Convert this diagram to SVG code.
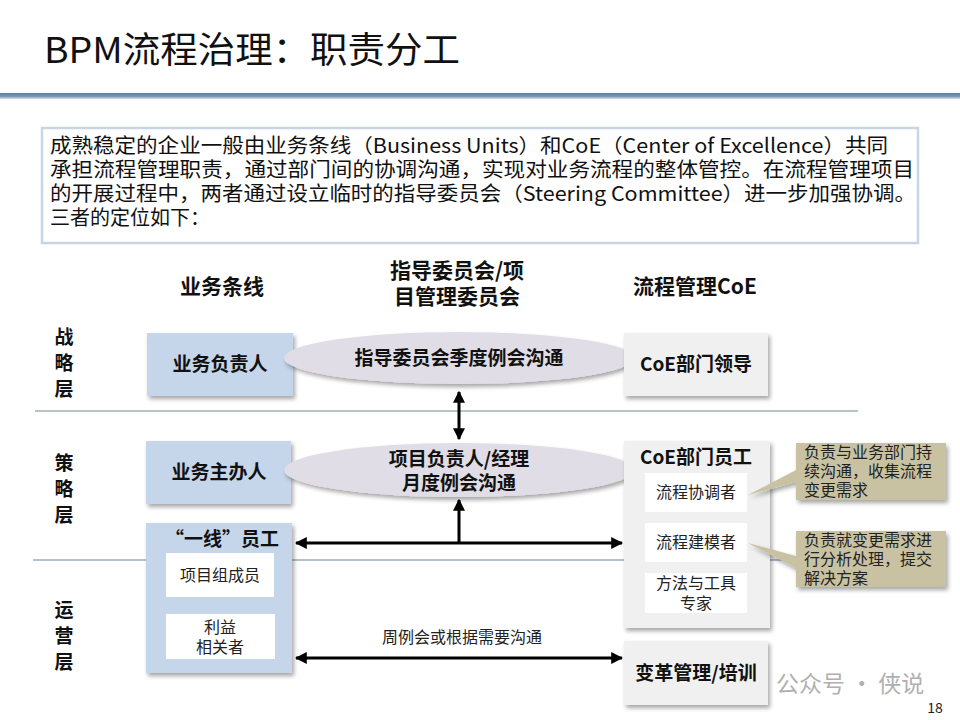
<svg xmlns="http://www.w3.org/2000/svg" width="960" height="720" viewBox="0 0 960 720">
<defs>
<filter id="sh" x="-10%" y="-10%" width="130%" height="130%">
<feDropShadow dx="2" dy="3" stdDeviation="2" flood-color="#000" flood-opacity="0.35"/>
</filter>
<marker id="ah" viewBox="0 0 10 10" refX="9" refY="5" markerWidth="4" markerHeight="4" orient="auto-start-reverse">
<path d="M0,0 L10,5 L0,10 z" fill="#000"/>
</marker>
<linearGradient id="bar" x1="0" y1="0" x2="0" y2="1">
<stop offset="0" stop-color="#5c7fa0"/><stop offset="0.6" stop-color="#7d9ab5"/><stop offset="1" stop-color="#dfe6ee"/>
</linearGradient>
</defs>
<style>
text{font-family:"Noto Sans CJK SC","Liberation Sans",sans-serif;fill:#111}
.in{font-size:20px}
.h{font-size:21px;font-weight:bold;text-anchor:middle}
.lay{font-size:19px;font-weight:bold;text-anchor:middle}
.blue{fill:#c5d5ea;filter:url(#sh)}
.gray{fill:#f0f0f0;filter:url(#sh)}
.wh{fill:#fff}
.ell{fill:#e1dde6;filter:url(#sh)}
.n{font-size:19px;font-weight:bold;text-anchor:middle}
.s{font-size:16px;text-anchor:middle;fill:#222}
.tip{fill:#c8c2a2;filter:url(#sh)}
.tt{font-size:16px;fill:#222}
.ln{stroke:#000;stroke-width:3;fill:none}
</style>
<rect width="960" height="720" fill="#fff"/>
<text x="44" y="63" style="font-size:36px" textLength="416" lengthAdjust="spacingAndGlyphs">BPM流程治理：职责分工</text>
<rect x="0" y="93" width="960" height="6" fill="url(#bar)"/>

<g id="intro">
<rect x="42" y="128" width="876" height="115" fill="#fff" stroke="#c9d5e2" stroke-width="2.5"/>
<text class="in" x="50" y="153" textLength="838" lengthAdjust="spacingAndGlyphs">成熟稳定的企业一般由业务条线（Business Units）和CoE（Center of Excellence）共同</text>
<text class="in" x="50" y="177" textLength="864" lengthAdjust="spacingAndGlyphs">承担流程管理职责，通过部门间的协调沟通，实现对业务流程的整体管控。在流程管理项目</text>
<text class="in" x="50" y="201" textLength="866" lengthAdjust="spacingAndGlyphs">的开展过程中，两者通过设立临时的指导委员会（Steering Committee）进一步加强协调。</text>
<text class="in" x="50" y="225">三者的定位如下：</text>
</g>

<g id="headers">
<text class="h" x="222" y="294">业务条线</text>
<text class="h" x="457" y="278">指导委员会/项</text>
<text class="h" x="457" y="304">目管理委员会</text>
<text class="h" x="695" y="294">流程管理CoE</text>
</g>

<g id="layers">
<text class="lay" x="64" y="344">战</text><text class="lay" x="64" y="370">略</text><text class="lay" x="64" y="396">层</text>
<text class="lay" x="64" y="470">策</text><text class="lay" x="64" y="496">略</text><text class="lay" x="64" y="522">层</text>
<text class="lay" x="64" y="617">运</text><text class="lay" x="64" y="643">营</text><text class="lay" x="64" y="669">层</text>
<line x1="35" y1="411" x2="858" y2="411" stroke="#6d8a8a" stroke-width="1.2"/>
<line x1="33" y1="560" x2="860" y2="560" stroke="#6a84a0" stroke-width="1.2"/>
</g>

<g id="biz-lead"><rect class="blue" x="147" y="333" width="146" height="63"/><text class="n" x="220" y="371">业务负责人</text></g>
<g id="biz-sponsor"><rect class="blue" x="146" y="441" width="145" height="63"/><text class="n" x="219" y="479">业务主办人</text></g>
<g id="frontline">
<rect class="blue" x="146" y="523" width="146" height="150"/>
<text class="n" x="222" y="546">“一线”员工</text>
<rect class="wh" x="166" y="553" width="108" height="44"/><text class="s" x="220" y="581">项目组成员</text>
<rect class="wh" x="166" y="614" width="109" height="45"/><text class="s" x="220" y="633">利益</text><text class="s" x="220" y="653">相关者</text>
</g>

<g id="steer-meeting"><ellipse class="ell" cx="459" cy="358" rx="175" ry="26"/><text class="n" x="459" y="365">指导委员会季度例会沟通</text></g>
<g id="pm-meeting"><ellipse class="ell" cx="459" cy="470" rx="175" ry="27"/><text class="n" x="459" y="466">项目负责人/经理</text><text class="n" x="459" y="490">月度例会沟通</text></g>

<g id="coe-lead"><rect class="gray" x="624" y="333" width="144" height="63"/><text class="n" x="696" y="371">CoE部门领导</text></g>
<g id="coe-staff">
<rect class="gray" x="624" y="441" width="146" height="187"/>
<text class="n" x="696" y="464">CoE部门员工</text>
<rect class="wh" x="645" y="473" width="102" height="39"/><text class="s" x="696" y="498">流程协调者</text>
<rect class="wh" x="645" y="523" width="102" height="39"/><text class="s" x="696" y="548">流程建模者</text>
<rect class="wh" x="645" y="573" width="102" height="40"/><text class="s" x="696" y="589">方法与工具</text><text class="s" x="696" y="609">专家</text>
</g>
<g id="change-mgmt"><rect class="gray" x="624" y="641" width="144" height="64"/><text class="n" x="696" y="680">变革管理/培训</text></g>

<g id="tip1">
<path class="tip" d="M796,443 H946 V500 H796 V482 L748,495 L796,470 Z"/>
<text class="tt" x="804" y="458">负责与业务部门持</text><text class="tt" x="804" y="477">续沟通，收集流程</text><text class="tt" x="804" y="496">变更需求</text>
</g>
<g id="tip2">
<path class="tip" d="M796,531 H946 V587 H796 V568 L748,543 L796,556 Z"/>
<text class="tt" x="804" y="546">负责就变更需求进</text><text class="tt" x="804" y="565">行分析处理，提交</text><text class="tt" x="804" y="584">解决方案</text>
</g>

<g id="connectors">
<line class="ln" x1="459" y1="392" x2="459" y2="439" marker-start="url(#ah)" marker-end="url(#ah)"/>
<line class="ln" x1="459" y1="543" x2="459" y2="500" marker-end="url(#ah)"/>
<line class="ln" x1="296" y1="543" x2="622" y2="543" marker-start="url(#ah)" marker-end="url(#ah)"/>
<line class="ln" x1="296" y1="658" x2="622" y2="658" marker-start="url(#ah)" marker-end="url(#ah)"/>
<text x="462" y="643" style="font-size:16px;text-anchor:middle;fill:#222">周例会或根据需要沟通</text>
</g>

<text x="776" y="692" style="font-size:23px;fill:#b0b0b0">公众号 · 侠说</text>
<text x="935" y="713" style="font-size:14px;text-anchor:middle;fill:#222">18</text>
</svg>
